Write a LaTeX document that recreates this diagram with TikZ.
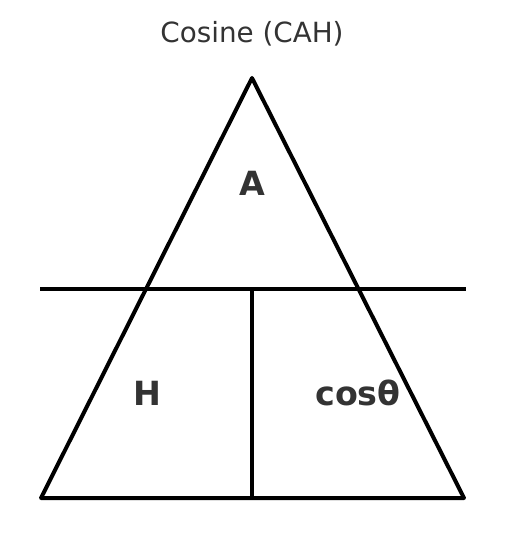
\documentclass[tikz,border=0pt]{standalone}
\usepackage{fontspec}
\setmainfont{DejaVu Sans}
\definecolor{txt}{HTML}{333333}
\begin{document}
\begin{tikzpicture}[x=1pt,y=-1pt,
  edge/.style={line width=4pt, line join=round, line cap=round, black},
  lbl/.style={text=txt, font=\fontsize{33.3}{40}\selectfont\bfseries, inner sep=0pt, anchor=base},
  ttl/.style={text=txt, font=\fontsize{27.8}{33}\selectfont, inner sep=0pt, anchor=base}]
\useasboundingbox (0,0) rectangle (505,540);
\coordinate (top) at (252,78);
\coordinate (bl) at (41,498);
\coordinate (br) at (464,498);
\coordinate (hl) at (40,289);
\coordinate (hr) at (466,289);
\coordinate (vt) at (252,289);
\coordinate (vb) at (252,498);
\draw[edge] (top) -- (br) -- (bl) -- cycle;
\draw[edge, line cap=butt] (hl) -- (hr);
\draw[edge, line cap=butt] (vt) -- (vb);
\node[ttl] (title) at (252,43) {Cosine (CAH)};
\node[lbl] (a) at (252,195) {A};
\node[lbl] (h) at (147,405) {H};
\node[lbl] (c) at (358,405) {cosθ};
\end{tikzpicture}
\end{document}
